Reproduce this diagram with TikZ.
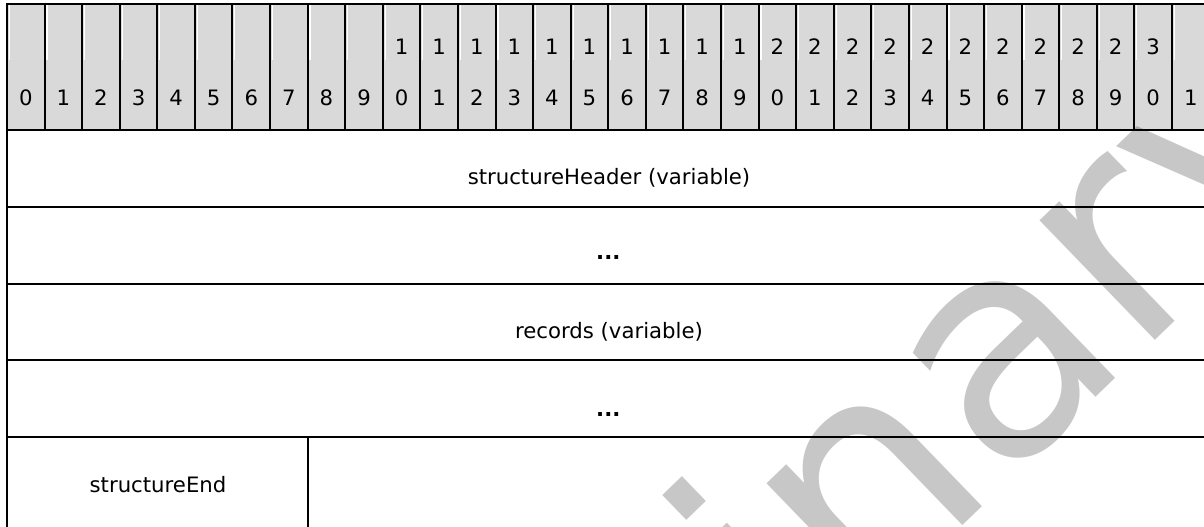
\documentclass[tikz,border=0pt]{standalone}
\usepackage{fontspec}
\setmainfont{DejaVu Sans}
\definecolor{hdrgray}{RGB}{217,217,217}
\begin{document}
\begin{tikzpicture}[x=1bp,y=-1bp,
  grid/.style={line width=2bp, black},
  sliver/.style={line width=1.2bp, white},
  lbl/.style={font=\fontsize{21.3}{25}\selectfont, anchor=base, inner sep=0pt},
  wmark/.style={rotate=44, anchor=base west, inner sep=0pt,
     font=\fontsize{305}{310}\selectfont, text=black, text opacity=0.22}]
\useasboundingbox (0,0) rectangle (1204,527);
\clip (0,0) rectangle (1204,527);
\def\cw{37.58}
% header background
\fill[hdrgray] (7,4) rectangle (1209.6,130);
\foreach \i in {0,...,31}{
  \pgfmathsetmacro{\sx}{7+\cw*\i+2.4}
  \draw[sliver] (\sx,5) -- (\sx,60);
}
% bit numbers
\foreach \i in {0,...,30}{
  \pgfmathsetmacro{\cx}{7+\cw*(\i+0.5)}
  \ifnum\i<10
    \node[lbl] (o\i) at (\cx,106) {\i};
  \else
    \pgfmathtruncatemacro{\tens}{\i/10}
    \pgfmathtruncatemacro{\ones}{\i-10*\tens}
    \node[lbl] (t\i) at (\cx,55) {\tens};
    \node[lbl] (o\i) at (\cx,106) {\ones};
  \fi
}
\node[lbl] (o31) at ({7+\cw*31.5},106) {1};
% grid
\draw[grid] (7,4) -- (1210,4);
\foreach \yy in {130,207,284,360,437}{ \draw[grid] (7,\yy) -- (1210,\yy); }
\draw[grid] (7,3) -- (7,530);
\foreach \i in {1,...,32}{
  \pgfmathsetmacro{\lx}{7+\cw*\i}
  \draw[grid] (\lx,4) -- (\lx,130);
}
\draw[grid] ({7+8*\cw},437) -- ({7+8*\cw},530);
% field labels
\node[lbl] (sh)  at (609,185) {structureHeader (variable)};
\node[lbl] (dA)  at (608.3,260) {\textbf{...}};
\node[lbl] (rec) at (609,339) {records (variable)};
\node[lbl] (dB)  at (608.3,416) {\textbf{...}};
\node[lbl] (se)  at (158,492) {structureEnd};
% watermark
\node[wmark] (wm) at (120,1340) {Preliminary};
\end{tikzpicture}
\end{document}
